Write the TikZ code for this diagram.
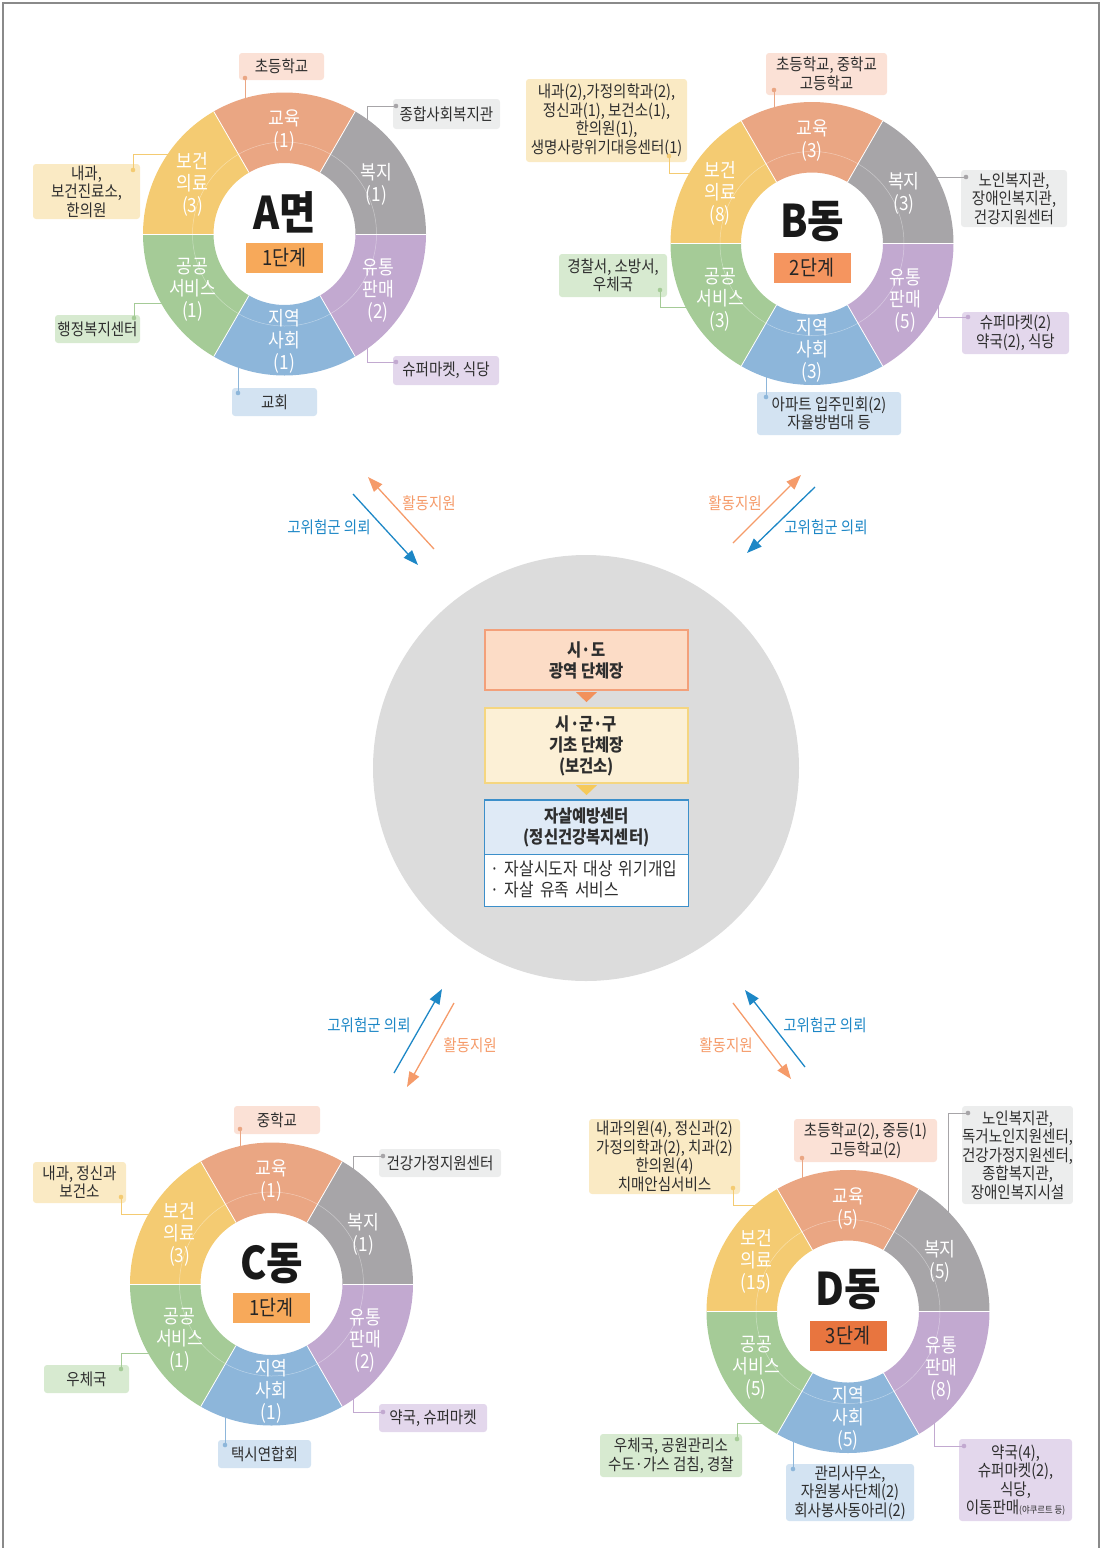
\documentclass[tikz,border=0pt]{standalone}
\usepackage{fontspec}
\setmainfont{Noto Sans CJK KR}[FakeStretch=0.88]
\usetikzlibrary{arrows.meta, calc}

\definecolor{segEdu}{HTML}{EAA683}
\definecolor{segWel}{HTML}{A7A5A8}
\definecolor{segRet}{HTML}{C2A9D0}
\definecolor{segCom}{HTML}{8DB6DA}
\definecolor{segPub}{HTML}{A5CB97}
\definecolor{segHea}{HTML}{F4CB72}
\definecolor{boxEdu}{HTML}{FBE1D6}
\definecolor{boxWel}{HTML}{ECEDED}
\definecolor{boxRet}{HTML}{E3D7EC}
\definecolor{boxCom}{HTML}{D3E3F2}
\definecolor{boxPub}{HTML}{D7EAD0}
\definecolor{boxHea}{HTML}{FAEAC4}
\definecolor{stageOne}{HTML}{F7A95A}
\definecolor{stageTwo}{HTML}{F5955F}
\definecolor{stageThree}{HTML}{E8753F}
\definecolor{txt}{HTML}{2E2E2E}
\definecolor{hubGray}{HTML}{DCDCDC}
\definecolor{sidoFill}{HTML}{FCDCC6}
\definecolor{sidoLine}{HTML}{F3A07A}
\definecolor{sidoTri}{HTML}{F2915C}
\definecolor{gunFill}{HTML}{FCF0D6}
\definecolor{gunLine}{HTML}{F5D680}
\definecolor{gunTri}{HTML}{F5C95A}
\definecolor{ctrFill}{HTML}{DFEAF6}
\definecolor{ctrLine}{HTML}{3C8FCA}
\definecolor{riskBlue}{HTML}{1D87C6}
\definecolor{aidOrange}{HTML}{F59B6A}
\definecolor{frameGray}{HTML}{8A8A8A}

\tikzset{
  ann/.style={rounded corners=3pt, text=txt, align=center, inner sep=0pt,
    font=\fontsize{16.5}{18.5}\selectfont},
  seglab/.style={text=white, align=center, inner sep=0pt, yshift=-3pt,
    font=\fontsize{19.5}{22}\selectfont},
  title/.style={text=black!90, inner sep=0pt, font=\bfseries\fontsize{45}{45}\selectfont},
  stage/.style={minimum width=77, minimum height=30, inner sep=0pt, text=black!85,
    font=\fontsize{21}{21}\selectfont},
  link/.style={line width=1pt},
  tier/.style={minimum width=203, inner sep=0pt, align=center, text=txt, line width=1.2pt,
    font=\bfseries\fontsize{17.5}{21}\selectfont},
  flow/.style={line width=1.3pt, -{Triangle[length=15pt,width=11pt]}},
  flowlab/.style={inner sep=0pt, font=\fontsize{16.5}{16.5}\selectfont}
}

% ring of six sectors with their labels
\newcommand{\ring}[7]{%
  \begin{scope}[shift={(#1)}]
    \foreach \s/\e/\c in {0/60/segWel,60/120/segEdu,120/180/segHea,180/240/segPub,240/300/segCom,300/360/segRet}
      \fill[\c] (\s:141.5) arc[start angle=\s,end angle=\e,radius=141.5]
        -- (\e:71) arc[start angle=\e,end angle=\s,radius=71] -- cycle;
    \foreach \a in {0,60,...,300}
      \draw[white,line width=.8pt] (\a:71) -- (\a:141.5);
    \draw[white,opacity=.4,line width=.5pt] (0,0) circle (92);
    \node[seglab] (#1edu) at (90:106) {교육\\(#2)};
    \node[seglab] (#1wel) at (30:106) {복지\\(#3)};
    \node[seglab] (#1ret) at (-30:108) {유통\\판매\\(#4)};
    \node[seglab] (#1com) at (-90:104) {지역\\사회\\(#5)};
    \node[seglab] (#1pub) at (210:106) {공공\\서비스\\(#6)};
    \node[seglab] (#1hea) at (150:106) {보건\\의료\\(#7)};
  \end{scope}}

\begin{document}
\begin{tikzpicture}[x=1pt,y=1pt]
\useasboundingbox (0,0) rectangle (1102,-1548);
\draw[frameGray,line width=1.5pt] (3,-1548) -- (3,-3) -- (1099,-3) -- (1099,-1548);

\coordinate (A) at (284.5,-234);
\coordinate (B) at (812,-243.5);
\coordinate (C) at (271.5,-1284);
\coordinate (D) at (848,-1311.5);

%% A면
\node[ann, fill=boxEdu, minimum width=85, minimum height=27] (aEdu) at (281.5,-66.5) {초등학교};
\node[ann, fill=boxWel, minimum width=107, minimum height=30] (aWel) at (446.5,-114) {종합사회복지관};
\node[ann, fill=boxHea, minimum width=107, minimum height=55] (aHea) at (86.5,-191.5) {내과,\\보건진료소,\\한의원};
\node[ann, fill=boxPub, minimum width=85, minimum height=28] (aPub) at (97.5,-329) {행정복지센터};
\node[ann, fill=boxCom, minimum width=85, minimum height=28] (aCom) at (274.5,-402) {교회};
\node[ann, fill=boxRet, minimum width=106, minimum height=29] (aRet) at (446,-370.5) {슈퍼마켓, 식당};

\coordinate (aEduDot) at (245,-78);  \coordinate (aEduEnd) at (245,-106);
\coordinate (aWelDot) at (396,-106); \coordinate (aWelEnd) at (367,-125);
\coordinate (aHeaDot) at (133,-170); \coordinate (aHeaEnd) at (175,-154);
\coordinate (aPubDot) at (134,-318); \coordinate (aPubEnd) at (170,-303);
\coordinate (aComDot) at (238,-393); \coordinate (aComEnd) at (238,-360);
\coordinate (aRetDot) at (396,-362); \coordinate (aRetEnd) at (367,-340);
\draw[link,segEdu] (aEduDot) -- (aEduEnd);
\draw[link,segWel] (aWelDot) -| (aWelEnd);
\draw[link,segHea] (aHeaDot) |- (aHeaEnd);
\draw[link,segPub] (aPubDot) |- (aPubEnd);
\draw[link,segCom] (aComDot) -- (aComEnd);
\draw[link,segRet] (aRetDot) -| (aRetEnd);

%% B동
\node[ann, fill=boxEdu, minimum width=121, minimum height=42] (bEdu) at (826.5,-74) {초등학교, 중학교\\고등학교};
\node[ann, fill=boxHea, minimum width=161, minimum height=83] (bHea) at (606.5,-120.5) {내과(2),가정의학과(2),\\정신과(1), 보건소(1),\\한의원(1),\\생명사랑위기대응센터(1)};
\node[ann, fill=boxWel, minimum width=106, minimum height=57] (bWel) at (1014,-198.5) {노인복지관,\\장애인복지관,\\건강지원센터};
\node[ann, fill=boxPub, minimum width=108, minimum height=43] (bPub) at (613,-275.5) {경찰서, 소방서,\\우체국};
\node[ann, fill=boxRet, minimum width=107, minimum height=42] (bRet) at (1015.5,-333) {슈퍼마켓(2)\\약국(2), 식당};
\node[ann, fill=boxCom, minimum width=144, minimum height=43] (bCom) at (829,-413.5) {아파트 입주민회(2)\\자율방범대 등};

\coordinate (bEduDot) at (774,-90);  \coordinate (bEduEnd) at (774,-115);
\coordinate (bHeaDot) at (669,-156); \coordinate (bHeaEnd) at (695,-173);
\coordinate (bWelDot) at (966,-177); \coordinate (bWelEnd) at (930,-177);
\coordinate (bPubDot) at (660,-290); \coordinate (bPubEnd) at (693,-307);
\coordinate (bRetDot) at (968,-317); \coordinate (bRetEnd) at (938,-300);
\coordinate (bComDot) at (766,-397); \coordinate (bComEnd) at (766,-372);
\draw[link,segEdu] (bEduDot) -- (bEduEnd);
\draw[link,segHea] (bHeaDot) |- (bHeaEnd);
\draw[link,segWel] (bWelDot) -- (bWelEnd);
\draw[link,segPub] (bPubDot) |- (bPubEnd);
\draw[link,segRet] (bRetDot) -| (bRetEnd);
\draw[link,segCom] (bComDot) -- (bComEnd);

%% C동
\node[ann, fill=boxEdu, minimum width=86, minimum height=28] (cEdu) at (277,-1120) {중학교};
\node[ann, fill=boxWel, minimum width=122, minimum height=28] (cWel) at (440,-1163) {건강가정지원센터};
\node[ann, fill=boxHea, minimum width=93, minimum height=41, font=\fontsize{16.5}{15.5}\selectfont] (cHea) at (79.5,-1182.5) {내과, 정신과\\보건소};
\node[ann, fill=boxPub, minimum width=85, minimum height=28] (cPub) at (86.5,-1379) {우체국};
\node[ann, fill=boxCom, minimum width=93, minimum height=28] (cCom) at (264.5,-1454) {택시연합회};
\node[ann, fill=boxRet, minimum width=108, minimum height=28] (cRet) at (433,-1418) {약국, 슈퍼마켓};

\coordinate (cEduDot) at (240,-1129); \coordinate (cEduEnd) at (240,-1152);
\coordinate (cWelDot) at (383,-1156); \coordinate (cWelEnd) at (353,-1178);
\coordinate (cHeaDot) at (121,-1197); \coordinate (cHeaEnd) at (158,-1214);
\coordinate (cPubDot) at (121,-1369); \coordinate (cPubEnd) at (156,-1353);
\coordinate (cComDot) at (225,-1445); \coordinate (cComEnd) at (225,-1410);
\coordinate (cRetDot) at (383,-1412); \coordinate (cRetEnd) at (353,-1392);
\draw[link,segEdu] (cEduDot) -- (cEduEnd);
\draw[link,segWel] (cWelDot) -| (cWelEnd);
\draw[link,segHea] (cHeaDot) |- (cHeaEnd);
\draw[link,segPub] (cPubDot) |- (cPubEnd);
\draw[link,segCom] (cComDot) -- (cComEnd);
\draw[link,segRet] (cRetDot) -| (cRetEnd);

%% D동
\node[ann, fill=boxHea, minimum width=151, minimum height=75] (dHea) at (664.5,-1156.5) {내과의원(4), 정신과(2)\\가정의학과(2), 치과(2)\\한의원(4)\\치매안심서비스};
\node[ann, fill=boxEdu, minimum width=143, minimum height=43] (dEdu) at (865.5,-1140.5) {초등학교(2), 중등(1)\\고등학교(2)};
\node[ann, fill=boxWel, minimum width=109, minimum height=98] (dWel) at (1017.5,-1155) {노인복지관,\\독거노인지원센터,\\건강가정지원센터,\\종합복지관,\\장애인복지시설};
\node[ann, fill=boxPub, minimum width=142, minimum height=43] (dPub) at (671,-1455.5) {우체국, 공원관리소\\수도·가스 검침, 경찰};
\node[ann, fill=boxCom, minimum width=128, minimum height=57] (dCom) at (850,-1492.5) {관리사무소,\\자원봉사단체(2)\\회사봉사동아리(2)};
\node[ann, fill=boxRet, minimum width=113, minimum height=82] (dRet) at (1015.5,-1480) {약국(4),\\슈퍼마켓(2),\\식당,\\이동판매{\fontsize{9.5}{9.5}\selectfont(야쿠르트 등)}};

\coordinate (dHeaDot) at (733,-1188); \coordinate (dHeaEnd) at (765,-1205);
\coordinate (dEduDot) at (802,-1158); \coordinate (dEduEnd) at (802,-1185);
\coordinate (dWelDot) at (968,-1113); \coordinate (dWelEnd) at (948,-1218);
\coordinate (dPubDot) at (737,-1439); \coordinate (dPubEnd) at (768,-1423);
\coordinate (dComDot) at (793,-1469); \coordinate (dComEnd) at (793,-1436);
\coordinate (dRetDot) at (964,-1446); \coordinate (dRetEnd) at (934,-1416);
\draw[link,segHea] (dHeaDot) |- (dHeaEnd);
\draw[link,segEdu] (dEduDot) -- (dEduEnd);
\draw[link,segWel] (dWelDot) -| (dWelEnd);
\draw[link,segPub] (dPubDot) |- (dPubEnd);
\draw[link,segCom] (dComDot) -- (dComEnd);
\draw[link,segRet] (dRetDot) -| (dRetEnd);

% dots at the box end of every connector
\foreach \n/\c in {aEdu/segEdu,aWel/segWel,aHea/segHea,aPub/segPub,aCom/segCom,aRet/segRet,
                   bEdu/segEdu,bWel/segWel,bHea/segHea,bPub/segPub,bCom/segCom,bRet/segRet,
                   cEdu/segEdu,cWel/segWel,cHea/segHea,cPub/segPub,cCom/segCom,cRet/segRet,
                   dEdu/segEdu,dWel/segWel,dHea/segHea,dPub/segPub,dCom/segCom,dRet/segRet}
  \fill[\c] (\n Dot) circle (2.3);

\ring{A}{1}{1}{2}{1}{1}{3}
\ring{B}{3}{3}{5}{3}{3}{8}
\ring{C}{1}{1}{2}{1}{1}{3}
\ring{D}{5}{5}{8}{5}{5}{15}

\node[title] (aName) at ($(A)+(0,22)$) {A면};
\node[stage, fill=stageOne] (aStage) at ($(A)+(0,-24)$) {1단계};
\node[title] (bName) at ($(B)+(0,22)$) {B동};
\node[stage, fill=stageTwo] (bStage) at ($(B)+(0,-24)$) {2단계};
\node[title] (cName) at ($(C)+(0,20)$) {C동};
\node[stage, fill=stageOne] (cStage) at ($(C)+(0,-24)$) {1단계};
\node[title] (dName) at ($(D)+(0,22)$) {D동};
\node[stage, fill=stageThree] (dStage) at ($(D)+(0,-24)$) {3단계};

%% centre
\node[circle, fill=hubGray, minimum size=426, inner sep=0pt] (hub) at (586,-768) {};
\node[tier, fill=sidoFill, draw=sidoLine, minimum height=60] (sido) at (586.5,-660) {시·도\\광역 단체장};
\node[tier, fill=gunFill, draw=gunLine, minimum height=75] (sigungu) at (586.5,-745.5) {시·군·구\\기초 단체장\\(보건소)};
\fill[sidoTri] ($(sido.south)+(-10.5,-1.5)$) -- ++(21,0) -- ++(-10.5,-10) -- cycle;
\fill[gunTri] ($(sigungu.south)+(-10.5,-1.5)$) -- ++(21,0) -- ++(-10.5,-10) -- cycle;
\node[tier, fill=ctrFill, minimum height=53] (ctrHead) at (586.5,-827) {자살예방센터\\(정신건강복지센터)};
\node[tier, fill=white, minimum height=52, text width=193, align=left, font=\fontsize{18}{21}\selectfont] (ctrBody) at (586.5,-879.5) {· 자살시도자 대상 위기개입\\· 자살 유족 서비스};
\draw[ctrLine, line width=1.2pt] (ctrHead.north west) rectangle (ctrBody.south east);
\draw[ctrLine, line width=1.2pt] (ctrHead.south west) -- (ctrHead.south east);

%% arrows between the rings and the centre
\coordinate (tlRiskS) at (353,-494);  \coordinate (tlRiskE) at (418,-565);
\coordinate (tlAidS) at (434,-549);   \coordinate (tlAidE) at (368,-477);
\coordinate (trAidS) at (733,-543);   \coordinate (trAidE) at (801,-475);
\coordinate (trRiskS) at (815,-487);  \coordinate (trRiskE) at (747,-553);
\coordinate (blRiskS) at (394,-1073); \coordinate (blRiskE) at (442,-989);
\coordinate (blAidS) at (454,-1003);  \coordinate (blAidE) at (407,-1087);
\coordinate (brAidS) at (733,-1003);  \coordinate (brAidE) at (791,-1079);
\coordinate (brRiskS) at (805,-1067); \coordinate (brRiskE) at (745,-990);
\draw[flow, riskBlue] (tlRiskS) -- (tlRiskE);
\draw[flow, aidOrange] (tlAidS) -- (tlAidE);
\draw[flow, aidOrange] (trAidS) -- (trAidE);
\draw[flow, riskBlue] (trRiskS) -- (trRiskE);
\draw[flow, riskBlue] (blRiskS) -- (blRiskE);
\draw[flow, aidOrange] (blAidS) -- (blAidE);
\draw[flow, aidOrange] (brAidS) -- (brAidE);
\draw[flow, riskBlue] (brRiskS) -- (brRiskE);

\node[flowlab, aidOrange] (tlAid) at (429,-503) {활동지원};
\node[flowlab, riskBlue] (tlRisk) at (329,-527) {고위험군 의뢰};
\node[flowlab, aidOrange] (trAid) at (735,-503) {활동지원};
\node[flowlab, riskBlue] (trRisk) at (826,-527) {고위험군 의뢰};
\node[flowlab, riskBlue] (blRisk) at (369,-1025) {고위험군 의뢰};
\node[flowlab, aidOrange] (blAid) at (470,-1045) {활동지원};
\node[flowlab, riskBlue] (brRisk) at (825,-1025) {고위험군 의뢰};
\node[flowlab, aidOrange] (brAid) at (726,-1045) {활동지원};
\end{tikzpicture}
\end{document}
